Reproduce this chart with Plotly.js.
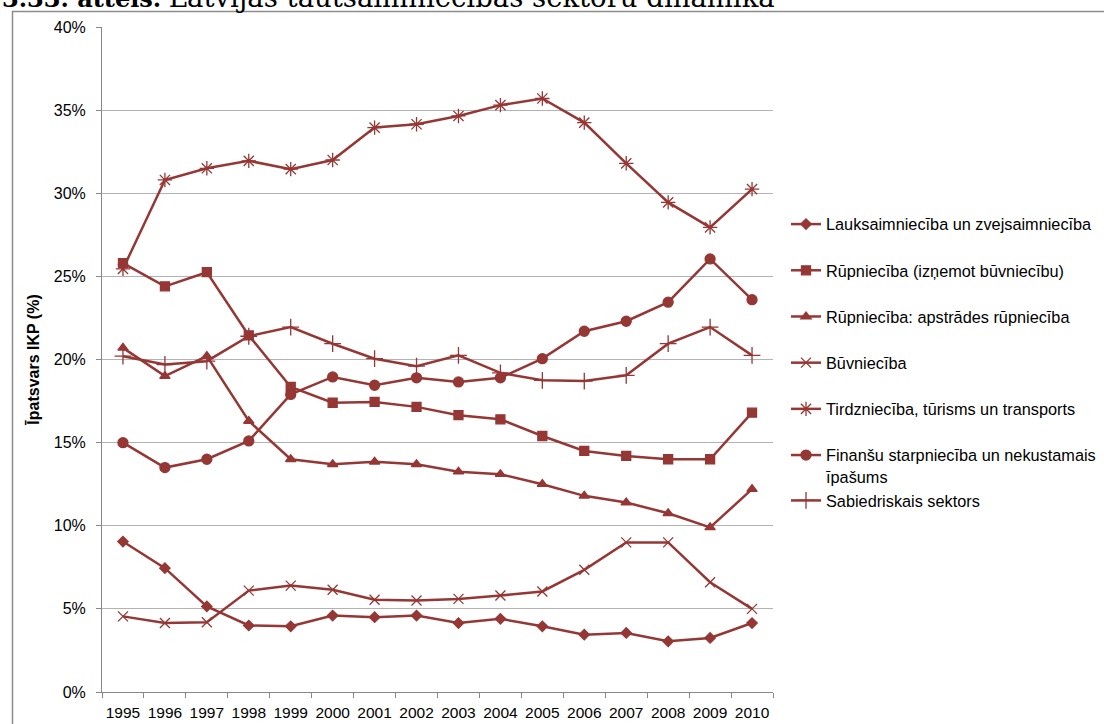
<!DOCTYPE html>
<html>
<head>
<meta charset="utf-8">
<script src="https://cdn.plot.ly/plotly-3.0.1.min.js"></script>
<style>html,body{margin:0;padding:0;background:#fff;}#chart{width:1104px;height:724px;}</style>
</head>
<body>
<div id="chart"></div>
<script>
const years = ['1995','1996','1997','1998','1999','2000','2001','2002','2003','2004','2005','2006','2007','2008','2009','2010'];
const seriesNames = [
  'Lauksaimniecība un zvejsaimniecība',
  'Rūpniecība (izņemot būvniecību)',
  'Rūpniecība: apstrādes rūpniecība',
  'Būvniecība',
  'Tirdzniecība, tūrisms un transports',
  'Finanšu starpniecība un nekustamais<br>īpašums',
  'Sabiedriskais sektors'
];
const lauksaimnieciba = [9.05, 7.45, 5.15, 4.0, 3.95, 4.6, 4.5, 4.6, 4.15, 4.4, 3.95, 3.45, 3.55, 3.05, 3.25, 4.15];
const rupnieciba      = [25.8, 24.4, 25.25, 21.45, 18.35, 17.4, 17.45, 17.15, 16.65, 16.4, 15.4, 14.5, 14.2, 14.0, 14.0, 16.8];
const apstrades       = [20.7, 19.0, 20.2, 16.3, 14.0, 13.7, 13.85, 13.7, 13.25, 13.1, 12.5, 11.8, 11.4, 10.75, 9.9, 12.2];
const buvnieciba      = [4.55, 4.15, 4.2, 6.1, 6.4, 6.15, 5.55, 5.5, 5.6, 5.8, 6.05, 7.35, 9.0, 9.0, 6.6, 5.0];
const tirdznieciba    = [25.45, 30.8, 31.5, 31.95, 31.45, 32.0, 33.95, 34.15, 34.65, 35.3, 35.7, 34.25, 31.8, 29.45, 27.95, 30.25];
const finansu         = [15.0, 13.5, 14.0, 15.1, 17.9, 18.95, 18.45, 18.9, 18.65, 18.9, 20.05, 21.7, 22.3, 23.45, 26.05, 23.6];
const sabiedriskais   = [20.2, 19.7, 19.9, 21.4, 21.95, 20.95, 20.05, 19.6, 20.25, 19.2, 18.75, 18.7, 19.05, 20.95, 21.95, 20.25];
const yTicks = [0, 5, 10, 15, 20, 25, 30, 35, 40];
const yTickText = ['0%','5%','10%','15%','20%','25%','30%','35%','40%'];

const seriesValues = [lauksaimnieciba, rupnieciba, apstrades, buvnieciba, tirdznieciba, finansu, sabiedriskais];
const symbols = ['diamond', 'square', 'triangle-up', 'x-thin-open', 'asterisk-open', 'circle', 'cross-thin-open'];
const sizes = [8, 9, 9, 10, 12, 10, 12];
const groups = ['g0', 'g1', 'g2', 'g3', 'g4', 'g5', 'g5'];
const col = '#953735';

const traces = seriesValues.map((vals, i) => ({
  type: 'scatter',
  mode: 'lines+markers',
  x: years,
  y: vals,
  name: seriesNames[i],
  legendgroup: groups[i],
  line: {color: col, width: 2.5},
  marker: {symbol: symbols[i], size: sizes[i], color: col, line: {color: col, width: 1.3}},
  hoverinfo: 'x+y+name'
}));

const L = 102, R = 331, T = 27, B = 32;
const pw = 1104 - L - R, ph = 724 - T - B;

const layout = {
  width: 1104, height: 724,
  margin: {l: L, r: R, t: T, b: B, pad: 0, autoexpand: false},
  paper_bgcolor: '#ffffff',
  plot_bgcolor: '#ffffff',
  font: {family: '"Liberation Sans", Arial, sans-serif', size: 16, color: '#000'},
  showlegend: true,
  legend: {
    x: (786 - L) / pw, xanchor: 'left',
    y: (724 - B - 207) / ph, yanchor: 'top',
    font: {size: 16.3, color: '#000'},
    tracegroupgap: 22,
    valign: 'top',
    traceorder: 'grouped',
    bgcolor: 'rgba(0,0,0,0)',
    itemwidth: 30
  },
  xaxis: {
    type: 'category',
    tickson: 'boundaries',
    ticks: 'outside', ticklen: 5, tickcolor: '#888',
    showline: true, linecolor: '#888', linewidth: 1,
    showgrid: false,
    tickangle: 0,
    tickfont: {size: 15.5, color: '#000'},
    ticklabelstandoff: 6,
    range: [-0.5, 15.5],
    zeroline: false,
    automargin: false
  },
  yaxis: {
    range: [0, 40],
    tickvals: yTicks, ticktext: yTickText,
    ticks: 'outside', ticklen: 5, tickcolor: '#888',
    showline: true, linecolor: '#888', linewidth: 1,
    showgrid: true, gridcolor: '#b3b3b3', gridwidth: 1,
    zeroline: false,
    automargin: false,
    tickfont: {size: 16, color: '#000'},
    ticklabelstandoff: 7,
    title: {text: '<b>Īpatsvars IKP (%)</b>', font: {size: 16, color: '#000'}, standoff: 10}
  },
  shapes: [{
    type: 'rect', xref: 'paper', yref: 'paper',
    x0: (12.5 - L) / pw, x1: (1120 - L) / pw,
    y0: (724 - B - 740) / ph, y1: (724 - B - 11.5) / ph,
    line: {color: '#8c8c8c', width: 1.5}, fillcolor: 'rgba(0,0,0,0)', layer: 'below'
  }],
  annotations: [{
    xref: 'paper', yref: 'paper',
    x: (0 - L) / pw, xanchor: 'left',
    y: (724 - B - 15) / ph, yanchor: 'bottom',
    showarrow: false,
    text: '<b>3.33. attēls.</b> <span style="font-size:27.5px">Latvijas tautsaimniecības sektoru dinamika</span>',
    font: {family: '"DejaVu Serif", "Liberation Serif", serif', size: 24, color: '#000'}
  }]
};

Plotly.newPlot('chart', traces, layout, {displayModeBar: false, staticPlot: true});
</script>
</body>
</html>
